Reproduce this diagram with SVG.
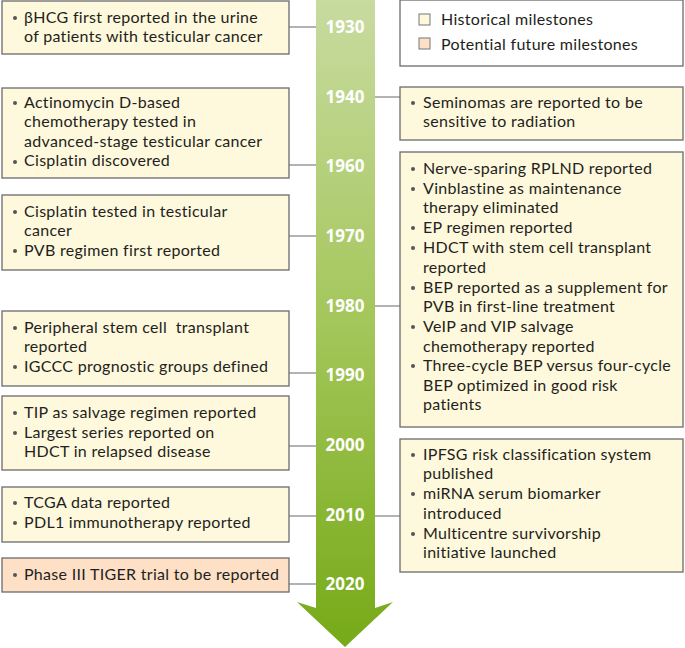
<svg xmlns="http://www.w3.org/2000/svg" width="685" height="648" viewBox="0 0 685 648">
<style>
.box{fill:#fef8dd;stroke:#6b6b6b;stroke-width:1.3}
.fut{fill:#fde0c6;stroke:#6b6b6b;stroke-width:1.3}
.leg{fill:#ffffff;stroke:#6b6b6b;stroke-width:1.3}
.t{font-family:Lato,"Noto Sans",sans-serif;font-size:16px;letter-spacing:0.3px;fill:#231f20}
.yr{font-family:"Open Sans","Noto Sans",sans-serif;font-size:17px;font-weight:bold;fill:#ffffff;text-anchor:middle}
.con line{stroke:#8a8a8a;stroke-width:1.3}
.b{fill:#555}
</style>
<defs>
<linearGradient id="g" x1="0" y1="0" x2="0" y2="1">
<stop offset="0" stop-color="#c8dba0"/>
<stop offset="0.5" stop-color="#a4c65a"/>
<stop offset="1" stop-color="#76aa18"/>
</linearGradient>
</defs>
<g id="timeline">
<path d="M316,0 H375 V608 L393,602 L345,647 L297,602 L316,608 Z" fill="url(#g)"/>
<text class="yr" x="345" y="33">1930</text>
<text class="yr" x="345" y="103">1940</text>
<text class="yr" x="345" y="172">1960</text>
<text class="yr" x="345" y="242">1970</text>
<text class="yr" x="345" y="312">1980</text>
<text class="yr" x="345" y="381">1990</text>
<text class="yr" x="345" y="451">2000</text>
<text class="yr" x="345" y="521">2010</text>
<text class="yr" x="345" y="590">2020</text>
</g>
<g class="con" id="connectors">
<line x1="289" y1="27" x2="316" y2="27"/>
<line x1="375" y1="97" x2="400" y2="97"/>
<line x1="289" y1="165" x2="316" y2="165"/>
<line x1="289" y1="236" x2="316" y2="236"/>
<line x1="375" y1="306" x2="400" y2="306"/>
<line x1="289" y1="373" x2="316" y2="373"/>
<line x1="289" y1="446" x2="316" y2="446"/>
<line x1="289" y1="516" x2="316" y2="516"/>
<line x1="375" y1="516" x2="400" y2="516"/>
<line x1="289" y1="584" x2="316" y2="584"/>
</g>
<g id="legend">
<rect class="leg" x="400" y="0" width="283" height="66"/>
<rect x="419" y="14" width="11" height="11" fill="#fef8dd" stroke="#777" stroke-width="1"/>
<rect x="419" y="38" width="11" height="11" fill="#fde0c6" stroke="#777" stroke-width="1"/>
<text class="t" x="441" y="25">Historical milestones</text>
<text class="t" x="441" y="50">Potential future milestones</text>
</g>
<g id="n1930">
<rect class="box" x="2" y="1" width="287" height="53"/>
<circle class="b" cx="15" cy="18" r="2"/>
<text class="t" x="24" y="23">βHCG first reported in the urine</text>
<text class="t" x="24" y="42">of patients with testicular cancer</text>
</g>
<g id="n1960">
<rect class="box" x="2" y="88" width="287" height="90"/>
<circle class="b" cx="15" cy="103" r="2"/>
<text class="t" x="24" y="108">Actinomycin D-based</text>
<text class="t" x="24" y="127">chemotherapy tested in</text>
<text class="t" x="24" y="147">advanced-stage testicular cancer</text>
<circle class="b" cx="15" cy="162" r="2"/>
<text class="t" x="24" y="166">Cisplatin discovered</text>
</g>
<g id="n1970">
<rect class="box" x="2" y="195" width="287" height="75"/>
<circle class="b" cx="15" cy="212" r="2"/>
<text class="t" x="24" y="217">Cisplatin tested in testicular</text>
<text class="t" x="24" y="236">cancer</text>
<circle class="b" cx="15" cy="251" r="2"/>
<text class="t" x="24" y="256">PVB regimen first reported</text>
</g>
<g id="n1990">
<rect class="box" x="2" y="311" width="287" height="75"/>
<circle class="b" cx="15" cy="328" r="2"/>
<text class="t" x="24" y="333" style="white-space:pre">Peripheral stem cell  transplant</text>
<text class="t" x="24" y="352">reported</text>
<circle class="b" cx="15" cy="367" r="2"/>
<text class="t" x="24" y="372">IGCCC prognostic groups defined</text>
</g>
<g id="n2000">
<rect class="box" x="2" y="396" width="287" height="74"/>
<circle class="b" cx="15" cy="413" r="2"/>
<text class="t" x="24" y="418">TIP as salvage regimen reported</text>
<circle class="b" cx="15" cy="433" r="2"/>
<text class="t" x="24" y="438">Largest series reported on</text>
<text class="t" x="24" y="457">HDCT in relapsed disease</text>
</g>
<g id="n2010">
<rect class="box" x="2" y="487" width="287" height="55"/>
<circle class="b" cx="15" cy="503" r="2"/>
<text class="t" x="24" y="508">TCGA data reported</text>
<circle class="b" cx="15" cy="523" r="2"/>
<text class="t" x="24" y="528">PDL1 immunotherapy reported</text>
</g>
<g id="n2020">
<rect class="fut" x="2" y="558" width="287" height="34"/>
<circle class="b" cx="15" cy="575" r="2"/>
<text class="t" x="24" y="580">Phase III TIGER trial to be reported</text>
</g>
<g id="n1940">
<rect class="box" x="400" y="87" width="283" height="53"/>
<circle class="b" cx="413" cy="103" r="2"/>
<text class="t" x="423" y="108">Seminomas are reported to be</text>
<text class="t" x="423" y="127">sensitive to radiation</text>
</g>
<g id="n1980">
<rect class="box" x="400" y="152" width="283" height="275"/>
<circle class="b" cx="413" cy="169" r="2"/>
<text class="t" x="423" y="174">Nerve-sparing RPLND reported</text>
<circle class="b" cx="413" cy="189" r="2"/>
<text class="t" x="423" y="194">Vinblastine as maintenance</text>
<text class="t" x="423" y="213">therapy eliminated</text>
<circle class="b" cx="413" cy="228" r="2"/>
<text class="t" x="423" y="233">EP regimen reported</text>
<circle class="b" cx="413" cy="248" r="2"/>
<text class="t" x="423" y="253">HDCT with stem cell transplant</text>
<text class="t" x="423" y="273">reported</text>
<circle class="b" cx="413" cy="288" r="2"/>
<text class="t" x="423" y="293">BEP reported as a supplement for</text>
<text class="t" x="423" y="312">PVB in first-line treatment</text>
<circle class="b" cx="413" cy="327" r="2"/>
<text class="t" x="423" y="332">VeIP and VIP salvage</text>
<text class="t" x="423" y="352">chemotherapy reported</text>
<circle class="b" cx="413" cy="366" r="2"/>
<text class="t" x="423" y="371">Three-cycle BEP versus four-cycle</text>
<text class="t" x="423" y="391">BEP optimized in good risk</text>
<text class="t" x="423" y="410">patients</text>
</g>
<g id="n2010r">
<rect class="box" x="400" y="439" width="283" height="133"/>
<circle class="b" cx="413" cy="455" r="2"/>
<text class="t" x="423" y="460">IPFSG risk classification system</text>
<text class="t" x="423" y="479">published</text>
<circle class="b" cx="413" cy="494" r="2"/>
<text class="t" x="423" y="499">miRNA serum biomarker</text>
<text class="t" x="423" y="519">introduced</text>
<circle class="b" cx="413" cy="534" r="2"/>
<text class="t" x="423" y="539">Multicentre survivorship</text>
<text class="t" x="423" y="558">initiative launched</text>
</g>
</svg>
